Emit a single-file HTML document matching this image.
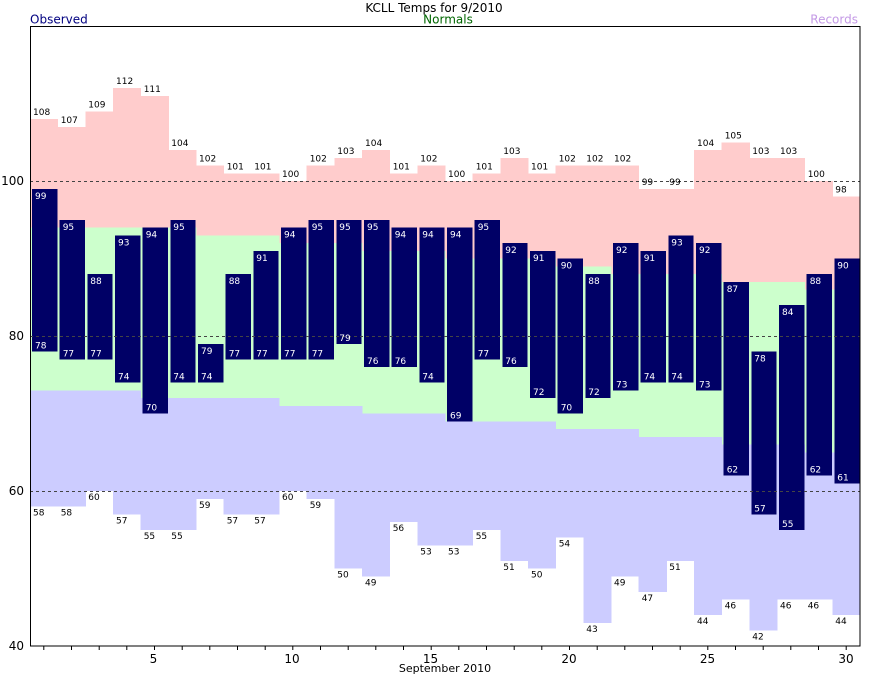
<!DOCTYPE html>
<html><head><meta charset="utf-8"><style>
html,body{margin:0;padding:0;background:#fff;}
svg{display:block;font-family:"DejaVu Sans","Liberation Sans",sans-serif;}
.s{font-size:9px;}
.w{fill:#fff;}
</style></head><body>
<svg width="870" height="676" viewBox="0 0 870 676" xmlns="http://www.w3.org/2000/svg">
<rect width="870" height="676" fill="#fff"/>
<g shape-rendering="crispEdges">
<!-- pink -->
<g fill="#ffcccc">
<rect x="30" y="119" width="28.2" height="108.5"/>
<rect x="57.67" y="126.75" width="28.2" height="100.75"/>
<rect x="85.33" y="111.25" width="28.2" height="116.25"/>
<rect x="113" y="88" width="28.2" height="139.5"/>
<rect x="140.67" y="95.75" width="28.2" height="131.75"/>
<rect x="168.33" y="150" width="28.2" height="77.5"/>
<rect x="196" y="165.5" width="28.2" height="69.75"/>
<rect x="223.67" y="173.25" width="28.2" height="62"/>
<rect x="251.33" y="173.25" width="28.2" height="62"/>
<rect x="279" y="181" width="28.2" height="62"/>
<rect x="306.67" y="165.5" width="28.2" height="77.5"/>
<rect x="334.33" y="157.75" width="28.2" height="85.25"/>
<rect x="362" y="150" width="28.2" height="100.75"/>
<rect x="389.67" y="173.25" width="28.2" height="77.5"/>
<rect x="417.33" y="165.5" width="28.2" height="85.25"/>
<rect x="445" y="181" width="28.2" height="77.5"/>
<rect x="472.67" y="173.25" width="28.2" height="85.25"/>
<rect x="500.33" y="157.75" width="28.2" height="100.75"/>
<rect x="528" y="173.25" width="28.2" height="85.25"/>
<rect x="555.67" y="165.5" width="28.2" height="100.75"/>
<rect x="583.33" y="165.5" width="28.2" height="100.75"/>
<rect x="611" y="165.5" width="28.2" height="108.5"/>
<rect x="638.67" y="188.75" width="28.2" height="85.25"/>
<rect x="666.33" y="188.75" width="28.2" height="85.25"/>
<rect x="694" y="150" width="28.2" height="124"/>
<rect x="721.67" y="142.25" width="28.2" height="139.5"/>
<rect x="749.33" y="157.75" width="28.2" height="124"/>
<rect x="777" y="157.75" width="28.2" height="124"/>
<rect x="804.67" y="181" width="28.2" height="108.5"/>
<rect x="832.33" y="196.5" width="27.67" height="93"/>
</g>
<!-- green -->
<g fill="#ccffcc">
<rect x="30" y="227.5" width="28.2" height="162.75"/>
<rect x="57.67" y="227.5" width="28.2" height="162.75"/>
<rect x="85.33" y="227.5" width="28.2" height="162.75"/>
<rect x="113" y="227.5" width="28.2" height="162.75"/>
<rect x="140.67" y="227.5" width="28.2" height="170.5"/>
<rect x="168.33" y="227.5" width="28.2" height="170.5"/>
<rect x="196" y="235.25" width="28.2" height="162.75"/>
<rect x="223.67" y="235.25" width="28.2" height="162.75"/>
<rect x="251.33" y="235.25" width="28.2" height="162.75"/>
<rect x="279" y="243" width="28.2" height="162.75"/>
<rect x="306.67" y="243" width="28.2" height="162.75"/>
<rect x="334.33" y="243" width="28.2" height="162.75"/>
<rect x="362" y="250.75" width="28.2" height="162.75"/>
<rect x="389.67" y="250.75" width="28.2" height="162.75"/>
<rect x="417.33" y="250.75" width="28.2" height="162.75"/>
<rect x="445" y="258.5" width="28.2" height="162.75"/>
<rect x="472.67" y="258.5" width="28.2" height="162.75"/>
<rect x="500.33" y="258.5" width="28.2" height="162.75"/>
<rect x="528" y="258.5" width="28.2" height="162.75"/>
<rect x="555.67" y="266.25" width="28.2" height="162.75"/>
<rect x="583.33" y="266.25" width="28.2" height="162.75"/>
<rect x="611" y="274" width="28.2" height="155"/>
<rect x="638.67" y="274" width="28.2" height="162.75"/>
<rect x="666.33" y="274" width="28.2" height="162.75"/>
<rect x="694" y="274" width="28.2" height="162.75"/>
<rect x="721.67" y="281.75" width="28.2" height="162.75"/>
<rect x="749.33" y="281.75" width="28.2" height="162.75"/>
<rect x="777" y="281.75" width="28.2" height="162.75"/>
<rect x="804.67" y="289.5" width="28.2" height="162.75"/>
<rect x="832.33" y="289.5" width="27.67" height="162.75"/>
</g>
<!-- blue -->
<g fill="#ccccff">
<rect x="30" y="390.25" width="28.2" height="116.25"/>
<rect x="57.67" y="390.25" width="28.2" height="116.25"/>
<rect x="85.33" y="390.25" width="28.2" height="100.75"/>
<rect x="113" y="390.25" width="28.2" height="124"/>
<rect x="140.67" y="398" width="28.2" height="131.75"/>
<rect x="168.33" y="398" width="28.2" height="131.75"/>
<rect x="196" y="398" width="28.2" height="100.75"/>
<rect x="223.67" y="398" width="28.2" height="116.25"/>
<rect x="251.33" y="398" width="28.2" height="116.25"/>
<rect x="279" y="405.75" width="28.2" height="85.25"/>
<rect x="306.67" y="405.75" width="28.2" height="93"/>
<rect x="334.33" y="405.75" width="28.2" height="162.75"/>
<rect x="362" y="413.5" width="28.2" height="162.75"/>
<rect x="389.67" y="413.5" width="28.2" height="108.5"/>
<rect x="417.33" y="413.5" width="28.2" height="131.75"/>
<rect x="445" y="421.25" width="28.2" height="124"/>
<rect x="472.67" y="421.25" width="28.2" height="108.5"/>
<rect x="500.33" y="421.25" width="28.2" height="139.5"/>
<rect x="528" y="421.25" width="28.2" height="147.25"/>
<rect x="555.67" y="429" width="28.2" height="108.5"/>
<rect x="583.33" y="429" width="28.2" height="193.75"/>
<rect x="611" y="429" width="28.2" height="147.25"/>
<rect x="638.67" y="436.75" width="28.2" height="155"/>
<rect x="666.33" y="436.75" width="28.2" height="124"/>
<rect x="694" y="436.75" width="28.2" height="178.25"/>
<rect x="721.67" y="444.5" width="28.2" height="155"/>
<rect x="749.33" y="444.5" width="28.2" height="186"/>
<rect x="777" y="444.5" width="28.2" height="155"/>
<rect x="804.67" y="452.25" width="28.2" height="147.25"/>
<rect x="832.33" y="452.25" width="27.67" height="162.75"/>
</g>
<!-- bars -->
<g fill="#000066">
<rect x="32" y="188.75" width="25.3" height="162.75"/>
<rect x="59.67" y="219.75" width="25.3" height="139.5"/>
<rect x="87.33" y="274" width="25.3" height="85.25"/>
<rect x="115" y="235.25" width="25.3" height="147.25"/>
<rect x="142.67" y="227.5" width="25.3" height="186"/>
<rect x="170.33" y="219.75" width="25.3" height="162.75"/>
<rect x="198" y="343.75" width="25.3" height="38.75"/>
<rect x="225.67" y="274" width="25.3" height="85.25"/>
<rect x="253.33" y="250.75" width="25.3" height="108.5"/>
<rect x="281" y="227.5" width="25.3" height="131.75"/>
<rect x="308.67" y="219.75" width="25.3" height="139.5"/>
<rect x="336.33" y="219.75" width="25.3" height="124"/>
<rect x="364" y="219.75" width="25.3" height="147.25"/>
<rect x="391.67" y="227.5" width="25.3" height="139.5"/>
<rect x="419.33" y="227.5" width="25.3" height="155"/>
<rect x="447" y="227.5" width="25.3" height="193.75"/>
<rect x="474.67" y="219.75" width="25.3" height="139.5"/>
<rect x="502.33" y="243" width="25.3" height="124"/>
<rect x="530" y="250.75" width="25.3" height="147.25"/>
<rect x="557.67" y="258.5" width="25.3" height="155"/>
<rect x="585.33" y="274" width="25.3" height="124"/>
<rect x="613" y="243" width="25.3" height="147.25"/>
<rect x="640.67" y="250.75" width="25.3" height="131.75"/>
<rect x="668.33" y="235.25" width="25.3" height="147.25"/>
<rect x="696" y="243" width="25.3" height="147.25"/>
<rect x="723.67" y="281.75" width="25.3" height="193.75"/>
<rect x="751.33" y="351.5" width="25.3" height="162.75"/>
<rect x="779" y="305" width="25.3" height="224.75"/>
<rect x="806.67" y="274" width="25.3" height="201.5"/>
<rect x="834.33" y="258.5" width="25.3" height="224.75"/>
</g>
</g>
<!-- dashed gridlines -->
<g stroke="#444" stroke-width="1" stroke-dasharray="3,3">
<line x1="30" y1="181.5" x2="860" y2="181.5"/>
<line x1="30" y1="336.5" x2="860" y2="336.5"/>
<line x1="30" y1="491.5" x2="860" y2="491.5"/>
</g>
<!-- frame -->
<rect x="30.5" y="26.5" width="829.5" height="619.5" fill="none" stroke="#000" stroke-width="1"/>
<!-- ticks -->
<g stroke="#000" stroke-width="1">
<path d="M43.8 646v4M71.5 646v4M99.2 646v4M126.8 646v4M154.5 646v4M182.2 646v4M209.8 646v4M237.5 646v4M265.2 646v4M292.8 646v4M320.5 646v4M348.2 646v4M375.8 646v4M403.5 646v4M431.2 646v4M458.8 646v4M486.5 646v4M514.2 646v4M541.8 646v4M569.5 646v4M597.2 646v4M624.8 646v4M652.5 646v4M680.2 646v4M707.8 646v4M735.5 646v4M763.2 646v4M790.8 646v4M818.5 646v4M846.2 646v4"/>
</g>
<!-- record high labels -->
<g class="s" fill="#000">
<text x="33" y="115">108</text><text x="60.7" y="122.75">107</text><text x="88.3" y="107.25">109</text><text x="116" y="84">112</text><text x="143.7" y="91.75">111</text><text x="171.3" y="146">104</text><text x="199" y="161.5">102</text><text x="226.7" y="169.25">101</text><text x="254.3" y="169.25">101</text><text x="282" y="177">100</text><text x="309.7" y="161.5">102</text><text x="337.3" y="153.75">103</text><text x="365" y="146">104</text><text x="392.7" y="169.25">101</text><text x="420.3" y="161.5">102</text><text x="448" y="177">100</text><text x="475.7" y="169.25">101</text><text x="503.3" y="153.75">103</text><text x="531" y="169.25">101</text><text x="558.7" y="161.5">102</text><text x="586.3" y="161.5">102</text><text x="614" y="161.5">102</text><text x="641.7" y="184.75">99</text><text x="669.3" y="184.75">99</text><text x="697" y="146">104</text><text x="724.7" y="138.25">105</text><text x="752.3" y="153.75">103</text><text x="780" y="153.75">103</text><text x="807.7" y="177">100</text><text x="835.3" y="192.5">98</text>
</g>
<!-- record low labels -->
<g class="s" fill="#000">
<text x="33" y="515.5">58</text><text x="60.7" y="515.5">58</text><text x="88.3" y="500">60</text><text x="116" y="523.25">57</text><text x="143.7" y="538.75">55</text><text x="171.3" y="538.75">55</text><text x="199" y="507.75">59</text><text x="226.7" y="523.25">57</text><text x="254.3" y="523.25">57</text><text x="282" y="500">60</text><text x="309.7" y="507.75">59</text><text x="337.3" y="577.5">50</text><text x="365" y="585.25">49</text><text x="392.7" y="531">56</text><text x="420.3" y="554.25">53</text><text x="448" y="554.25">53</text><text x="475.7" y="538.75">55</text><text x="503.3" y="569.75">51</text><text x="531" y="577.5">50</text><text x="558.7" y="546.5">54</text><text x="586.3" y="631.75">43</text><text x="614" y="585.25">49</text><text x="641.7" y="600.75">47</text><text x="669.3" y="569.75">51</text><text x="697" y="624">44</text><text x="724.7" y="608.5">46</text><text x="752.3" y="639.5">42</text><text x="780" y="608.5">46</text><text x="807.7" y="608.5">46</text><text x="835.3" y="624">44</text>
</g>
<!-- bar top labels -->
<g class="s w">
<text x="35" y="198.75">99</text><text x="62.7" y="229.75">95</text><text x="90.3" y="284">88</text><text x="118" y="245.25">93</text><text x="145.7" y="237.5">94</text><text x="173.3" y="229.75">95</text><text x="201" y="353.75">79</text><text x="228.7" y="284">88</text><text x="256.3" y="260.75">91</text><text x="284" y="237.5">94</text><text x="311.7" y="229.75">95</text><text x="339.3" y="229.75">95</text><text x="367" y="229.75">95</text><text x="394.7" y="237.5">94</text><text x="422.3" y="237.5">94</text><text x="450" y="237.5">94</text><text x="477.7" y="229.75">95</text><text x="505.3" y="253">92</text><text x="533" y="260.75">91</text><text x="560.7" y="268.5">90</text><text x="588.3" y="284">88</text><text x="616" y="253">92</text><text x="643.7" y="260.75">91</text><text x="671.3" y="245.25">93</text><text x="699" y="253">92</text><text x="726.7" y="291.75">87</text><text x="754.3" y="361.5">78</text><text x="782" y="315">84</text><text x="809.7" y="284">88</text><text x="837.3" y="268.5">90</text>
</g>
<!-- bar bottom labels -->
<g class="s w">
<text x="35" y="348.5">78</text><text x="62.7" y="356.25">77</text><text x="90.3" y="356.25">77</text><text x="118" y="379.5">74</text><text x="145.7" y="410.5">70</text><text x="173.3" y="379.5">74</text><text x="201" y="379.5">74</text><text x="228.7" y="356.25">77</text><text x="256.3" y="356.25">77</text><text x="284" y="356.25">77</text><text x="311.7" y="356.25">77</text><text x="339.3" y="340.75">79</text><text x="367" y="364">76</text><text x="394.7" y="364">76</text><text x="422.3" y="379.5">74</text><text x="450" y="418.25">69</text><text x="477.7" y="356.25">77</text><text x="505.3" y="364">76</text><text x="533" y="395">72</text><text x="560.7" y="410.5">70</text><text x="588.3" y="395">72</text><text x="616" y="387.25">73</text><text x="643.7" y="379.5">74</text><text x="671.3" y="379.5">74</text><text x="699" y="387.25">73</text><text x="726.7" y="472.5">62</text><text x="754.3" y="511.25">57</text><text x="782" y="526.75">55</text><text x="809.7" y="472.5">62</text><text x="837.3" y="480.25">61</text>
</g>
<!-- axis labels -->
<g font-size="12" fill="#000" text-anchor="end">
<text x="24" y="650">40</text><text x="24" y="495">60</text><text x="24" y="340">80</text><text x="24" y="185">100</text>
</g>
<g font-size="12" fill="#000" text-anchor="middle">
<text x="153.5" y="663">5</text><text x="292" y="663">10</text><text x="430.5" y="663">15</text><text x="569" y="663">20</text><text x="707.5" y="663">25</text><text x="846" y="663">30</text>
<text x="445" y="672" font-size="11">September 2010</text>
<text x="434" y="12">KCLL Temps for 9/2010</text>
<text x="448" y="23.5" fill="#006600">Normals</text>
</g>
<text x="30" y="23.5" font-size="12" fill="#000080">Observed</text>
<text x="858" y="23.5" font-size="12" fill="#c49ae6" text-anchor="end">Records</text>
</svg>
</body></html>
